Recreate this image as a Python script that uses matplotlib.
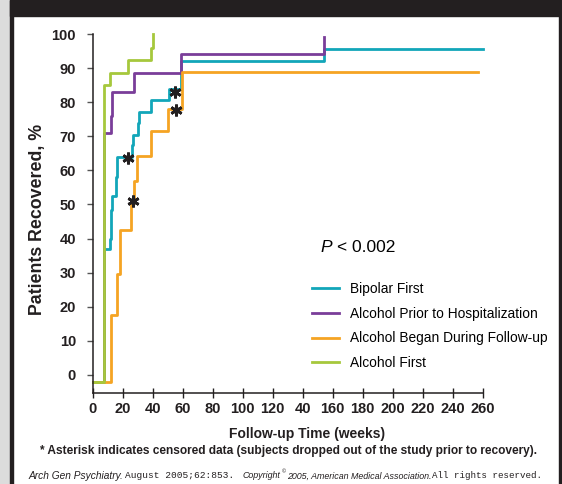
import matplotlib.pyplot as plt
from matplotlib.patches import Rectangle
from matplotlib.lines import Line2D

plt.rcParams['font.family'] = ['Liberation Sans', 'DejaVu Sans']

W, H = 562, 484

# Kaplan-Meier style step curves (weeks, % recovered)
bipolar_t = [0, 7.5, 11.8, 12.2, 12.9, 15.5, 16, 26, 27.1, 30.4, 30.9, 38.9, 50.9, 58.9, 154.2, 260]
bipolar_v = [-2, 37, 40, 48.5, 52.5, 58, 64, 67.5, 70.5, 74, 77, 80.5, 84, 92, 95.5, 95.5]

prior_t = [0, 7.5, 12, 12.7, 27.5, 58.7, 154.2]
prior_v = [-2, 71, 76, 83, 88.5, 94, 99]

began_t = [0, 12, 16, 18.2, 25.5, 27.5, 29.3, 38.7, 50.1, 59.3, 257]
began_v = [-2, 17.5, 29.5, 42.5, 50.5, 57, 64.3, 71.5, 78, 89, 89]

first_t = [0, 7.5, 11.5, 23.7, 38.7, 40]
first_v = [-2, 85, 88.5, 92.4, 95.8, 100]

# censored observations (asterisks)
bipolar_cens_t = [23.2, 55]
bipolar_cens_v = [63.7, 83.1]
began_cens_t = [27.1, 55.7]
began_cens_v = [51, 77.7]

labels = ['Bipolar First', 'Alcohol Prior to Hospitalization',
          'Alcohol Began During Follow-up', 'Alcohol First']
colors = ['#12a6b9', '#7a3d99', '#f5a423', '#a6c83c']

xticks = list(range(0, 261, 20))
xticklabels = ['0', '20', '40', '60', '80', '100', '120', '40', '160',
               '180', '200', '220', '240', '260']
yticks = list(range(0, 101, 10))

fig = plt.figure(figsize=(W / 100, H / 100), dpi=100)

# frame decorations
fig.patches.append(Rectangle((0, 0), 10 / W, 1, transform=fig.transFigure,
                             color='#dcdcdc', zorder=0))
fig.patches.append(Rectangle((10 / W, 0), 3 / W, 1, transform=fig.transFigure,
                             color='#231f20', zorder=0))
fig.patches.append(Rectangle((559 / W, 0), 3 / W, 1, transform=fig.transFigure,
                             color='#231f20', zorder=0))
fig.patches.append(Rectangle((10 / W, 1 - 16 / H), 1, 16 / H, transform=fig.transFigure,
                             color='#231f20', zorder=0))

ax = fig.add_axes([92.7 / W, (H - 393) / H, 390 / W, (393 - 34) / H])
ax.set_xlim(0, 260)
ax.set_ylim(-5.28, 100)

series = [(bipolar_t, bipolar_v), (prior_t, prior_v), (began_t, began_v), (first_t, first_v)]
for (t, v), c, lab in zip(series, colors, labels):
    ax.step(t, v, where='post', color=c, lw=2.0, label=lab, clip_on=False)

ax.plot(bipolar_cens_t + began_cens_t, bipolar_cens_v + began_cens_v,
        ls='none', marker=(6, 2, 0), ms=8.5, mew=2, color='#231f20', zorder=5)

for s in ['top', 'right']:
    ax.spines[s].set_visible(False)
for s in ['left', 'bottom']:
    ax.spines[s].set_linewidth(1.1)
    ax.spines[s].set_color('#231f20')

ax.set_xticks(xticks)
ax.set_xticklabels(xticklabels, fontsize=10.5, fontweight='bold', color='#231f20')
ax.set_yticks(yticks)
ax.set_yticklabels([str(y) for y in yticks], fontsize=10.5, fontweight='bold', color='#231f20')
ax.tick_params(axis='x', direction='inout', length=7, width=1, pad=3, colors='#231f20')
ax.tick_params(axis='y', direction='out', length=4, width=1, pad=8, color='#555555')

fig.text(307 / W, 1 - 434 / H, 'Follow-up Time (weeks)', fontsize=10, fontweight='bold',
         ha='center', va='center', color='#231f20')
fig.text(38 / W, 1 - 219 / H, 'Patients Recovered, %', rotation=90, fontsize=12.8,
         fontweight='bold', ha='center', va='center', color='#231f20')

fig.text(320 / W, 1 - 248 / H, 'P', fontsize=12.5, style='italic', va='center')
fig.text(337 / W, 1 - 248 / H, '< 0.002', fontsize=12.5, va='center')

handles = [Line2D([], [], color=c, lw=2) for c in colors]
ax.legend(handles, labels, loc='upper left', bbox_to_anchor=(311.7 / W, 1 - 282 / H),
          bbox_transform=fig.transFigure, frameon=False, fontsize=9.9,
          handlelength=1.95, handletextpad=0.85, labelspacing=0.775,
          borderpad=0, borderaxespad=0)

fig.text(289 / W, 1 - 451 / H,
         '* Asterisk indicates censored data (subjects dropped out of the study prior to recovery).',
         fontsize=8.6, fontweight='bold', ha='center', va='center', color='#231f20')

# citation line with mixed fonts
cy = 1 - 476 / H
fig.text(28 / W, cy, 'Arch Gen Psychiatry.', fontsize=7.3, style='italic',
         va='center', color='#231f20')
fig.text(125 / W, cy, 'August 2005;62:853.', fontsize=6.8, family='Liberation Mono',
         va='center', color='#231f20')
renderer = fig.canvas.get_renderer()
t1 = fig.text(243 / W, cy, 'Copyright', fontsize=6.4, style='italic', va='center',
              color='#231f20')
x = 243 + t1.get_window_extent(renderer).width + 0.5
t2 = fig.text(x / W, 1 - 472 / H, '\u00a9', fontsize=4, va='center', color='#231f20')
x += t2.get_window_extent(renderer).width + 1.5
fig.text(x / W, cy, '2005, American Medical Association.', fontsize=6.4, style='italic',
         va='center', color='#231f20')
fig.text(432 / W, cy, 'All rights reserved.', fontsize=6.6, family='Liberation Mono',
         va='center', color='#231f20')

fig.savefig('out.png', dpi=100)
